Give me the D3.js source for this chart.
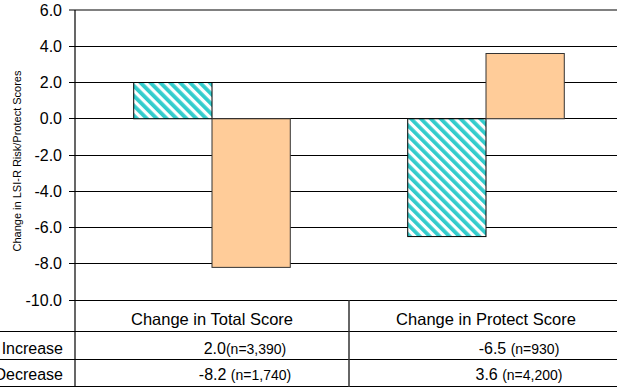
<!DOCTYPE html>
<html>
<head>
<meta charset="utf-8">
<script src="https://cdn.jsdelivr.net/npm/d3@7"></script>
<style>
  html, body { margin: 0; padding: 0; background: #fff; }
  svg { display: block; font-family: "Liberation Sans", Arial, sans-serif; }
</style>
</head>
<body>
<svg id="chart" width="617" height="387"></svg>
<script>
// Chart data
const categories = ["Change in Total Score", "Change in Protect Score"];
const seriesNames = ["Increase", "Decrease"];
const increaseValues = [2.0, -6.5];
const decreaseValues = [-8.2, 3.6];
const increaseCounts = ["(n=3,390)", "(n=930)"];
const decreaseCounts = ["(n=1,740)", "(n=4,200)"];
const yTicks = [6, 4, 2, 0, -2, -4, -6, -8, -10];
const yTitle = "Change in LSI-R Risk/Protect Scores";

const svg = d3.select("#chart");
const W = 617;
const FONT = "Liberation Sans, Arial, sans-serif";
const fmt = d3.formatLocale({ decimal: ".", thousands: ",", grouping: [3], currency: ["", ""], minus: "-" }).format(".1f");

const plot = { left: 75, right: 623, top: 10, bottom: 300 };

const x = d3.scaleBand().domain(categories).range([plot.left, plot.right]).paddingInner(0).paddingOuter(0);
const inner = d3.scaleBand().domain(seriesNames).range([0, x.bandwidth()]).paddingInner(0).paddingOuter(0.75);
const y = d3.scaleLinear().domain([-10, 6]).range([plot.bottom, plot.top]);

// hatch pattern for the Increase series
const defs = svg.append("defs");
const pat = defs.append("pattern")
  .attr("id", "hatch")
  .attr("patternUnits", "userSpaceOnUse")
  .attr("width", 7).attr("height", 7)
  .attr("patternTransform", "rotate(-45)");
pat.append("rect").attr("width", 7).attr("height", 7).attr("fill", "#ffffff");
pat.append("rect").attr("width", 3.8).attr("height", 7).attr("fill", "#33CCCC");

// gridlines
const grid = svg.append("g");
grid.selectAll("line").data(yTicks).enter().append("line")
  .attr("x1", plot.left - 6).attr("x2", W)
  .attr("y1", d => y(d)).attr("y2", d => y(d))
  .attr("stroke", d => d === 6 ? "#808080" : "#000")
  .attr("stroke-width", d => d === 6 ? 1.5 : 1)
  .attr("shape-rendering", "crispEdges");

// y axis
const yAxis = d3.axisLeft(y).tickValues(yTicks).tickFormat(fmt).tickSize(6).tickPadding(7);
const ya = svg.append("g").attr("transform", `translate(${plot.left},0)`).call(yAxis);
ya.select(".domain").remove();
ya.selectAll(".tick line").remove();
ya.selectAll("text").attr("font-size", 16).attr("fill", "#000").attr("font-family", FONT);

// bars
const rows = categories.map((c, i) => ({ cat: c, vals: [
  { s: "Increase", v: increaseValues[i] },
  { s: "Decrease", v: decreaseValues[i] }
]}));

const groups = svg.append("g").selectAll("g").data(rows).enter().append("g")
  .attr("transform", d => `translate(${x(d.cat)},0)`);
groups.selectAll("rect").data(d => d.vals).enter().append("rect")
  .attr("x", d => inner(d.s))
  .attr("width", inner.bandwidth())
  .attr("y", d => y(Math.max(0, d.v)))
  .attr("height", d => Math.abs(y(d.v) - y(0)))
  .attr("fill", d => d.s === "Increase" ? "url(#hatch)" : "#FFCC99")
  .attr("stroke", d => d.s === "Increase" ? "#000" : "#333")
  .attr("stroke-width", 1);

// axis line
svg.append("line")
  .attr("x1", plot.left).attr("x2", plot.left)
  .attr("y1", plot.top).attr("y2", 387)
  .attr("stroke", "#000").attr("stroke-width", 1.2);

// y title
svg.append("text")
  .attr("transform", "translate(21,161) rotate(-90)")
  .attr("text-anchor", "middle")
  .attr("font-size", 11)
  .text(yTitle);

// data table
const tbl = { header: 331, row1: 359, row2: 386 };
[tbl.header, tbl.row1, tbl.row2].forEach(yy => {
  svg.append("line").attr("x1", 0).attr("x2", W).attr("y1", yy).attr("y2", yy)
    .attr("stroke", "#000").attr("stroke-width", 1).attr("shape-rendering", "crispEdges");
});
svg.append("line")
  .attr("x1", x(categories[1])).attr("x2", x(categories[1]))
  .attr("y1", plot.bottom).attr("y2", 387)
  .attr("stroke", "#333").attr("stroke-width", 1.5);

categories.forEach(c => {
  svg.append("text")
    .attr("x", x(c) + x.bandwidth() / 2).attr("y", 325)
    .attr("text-anchor", "middle").attr("font-size", 16.5).text(c);
});

const rowLabelY = [354, 380];
seriesNames.forEach((s, i) => {
  svg.append("text").attr("x", 63).attr("y", rowLabelY[i])
    .attr("text-anchor", "end").attr("font-size", 16).text(s);
});

const tableRows = [
  { vals: increaseValues, counts: increaseCounts },
  { vals: decreaseValues, counts: decreaseCounts }
];
tableRows.forEach((r, i) => {
  categories.forEach((c, j) => {
    const t = svg.append("text")
      .attr("x", x(c) + x.bandwidth() / 2 + 33)
      .attr("y", rowLabelY[i])
      .attr("text-anchor", "middle");
    const gap = (i === 0 && j === 0) ? "" : " ";
    t.append("tspan").attr("font-size", 16).text(fmt(r.vals[j]) + gap);
    t.append("tspan").attr("font-size", 14).text(r.counts[j]);
  });
});
</script>
</body>
</html>
